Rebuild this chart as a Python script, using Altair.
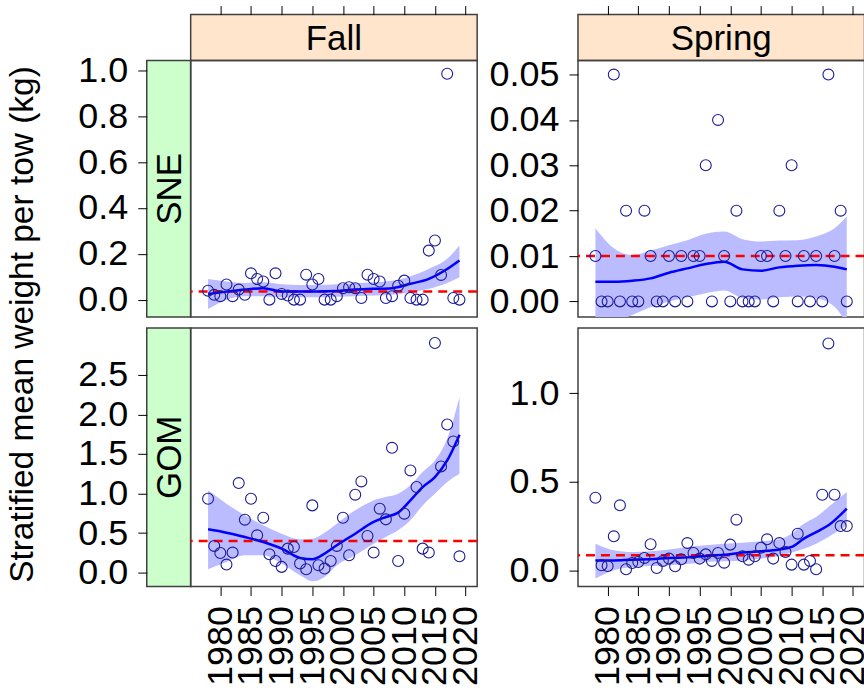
import altair as alt
import pandas as pd

FONT = "Liberation Sans"

# ---------------- data ----------------
years = list(range(1978, 2020))

fall_sne = [0.039, 0.021, 0.015, 0.066, 0.015, 0.044, 0.021, 0.115, 0.090, 0.079,
            0.0, 0.115, 0.025, 0.018, 0.0, 0.0, 0.109, 0.066, 0.090, 0.0,
            0.0, 0.015, 0.050, 0.054, 0.050, 0.007, 0.109, 0.090, 0.079, 0.007,
            0.015, 0.061, 0.083, 0.007, 0.0, 0.0, 0.214, 0.258, 0.108, 0.986,
            0.007, 0.0]
spring_sne = [0.01, 0.0, 0.0, 0.05, 0.0, 0.02, 0.0, 0.0, 0.02, 0.01,
              0.0, 0.0, 0.01, 0.0, 0.01, 0.0, 0.01, 0.01, 0.03, 0.0,
              0.04, 0.01, 0.0, 0.02, 0.0, 0.0, 0.0, 0.01, 0.01, 0.0,
              0.02, 0.01, 0.03, 0.0, 0.01, 0.0, 0.01, 0.0, 0.05, 0.01,
              0.02, 0.0]
fall_gom = [0.934, 0.337, 0.248, 0.101, 0.253, 1.132, 0.669, 0.934, 0.471, 0.694,
            0.231, 0.147, 0.072, 0.303, 0.324, 0.114, 0.042, 0.850, 0.093, 0.051,
            0.147, 0.337, 0.694, 0.219, 0.985, 1.153, 0.463, 0.253, 0.808, 0.673,
            1.578, 0.147, 0.745, 1.292, 1.082, 0.303, 0.253, 2.904, 1.343, 1.873,
            1.658, 0.206]
spring_gom = [0.410, 0.028, 0.024, 0.192, 0.367, 0.006, 0.041, 0.047, 0.070, 0.147,
              0.013, 0.053, 0.066, 0.023, 0.062, 0.154, 0.098, 0.066, 0.090, 0.053,
              0.098, 0.043, 0.145, 0.286, 0.079, 0.060, 0.079, 0.128, 0.175, 0.066,
              0.154, 0.103, 0.032, 0.207, 0.032, 0.053, 0.006, 0.427, 1.282, 0.427,
              0.250, 0.250]

# smoother (fit and band) read at knot years
sne_knots = [1978, 1981, 1984, 1987, 1990, 1993, 1996, 1999, 2002, 2005, 2008, 2011, 2014, 2017, 2019]
fall_sne_fit = [0.025, 0.035, 0.044, 0.050, 0.036, 0.036, 0.036, 0.038, 0.044, 0.047, 0.050, 0.069, 0.091, 0.134, 0.171]
fall_sne_lo = [-0.041, 0.0, 0.015, 0.015, 0.010, 0.010, 0.010, 0.013, 0.015, 0.018, 0.021, 0.032, 0.047, 0.073, 0.098]
fall_sne_hi = [0.090, 0.079, 0.073, 0.076, 0.067, 0.064, 0.064, 0.067, 0.072, 0.076, 0.082, 0.102, 0.134, 0.178, 0.236]

spring_sne_fit = [0.00433, 0.00433, 0.00455, 0.00507, 0.00632, 0.00728, 0.00824, 0.00875, 0.00706, 0.00677, 0.00750, 0.00787, 0.00802, 0.00765, 0.00706]
spring_sne_lo = [-0.0078, -0.0049, -0.0030, -0.0013, 0.0, 0.0009, 0.0018, 0.0024, 0.0007, 0.0004, 0.0009, 0.0011, 0.0007, -0.0012, -0.0049]
spring_sne_hi = [0.0161, 0.0117, 0.0102, 0.0112, 0.0124, 0.0135, 0.0149, 0.0154, 0.0137, 0.0132, 0.0134, 0.0135, 0.0143, 0.0161, 0.0187]

fall_gom_knots = [1978, 1981, 1984, 1987, 1990, 1993, 1995, 1997, 1999, 2002, 2005, 2007, 2009, 2011, 2013, 2015, 2017, 2019]
fall_gom_fit = [0.547, 0.505, 0.450, 0.387, 0.303, 0.185, 0.168, 0.240, 0.345, 0.492, 0.640, 0.703, 0.758, 0.913, 1.082, 1.208, 1.418, 1.742]
fall_gom_lo = [0.042, 0.135, 0.219, 0.219, 0.114, -0.034, -0.109, -0.055, 0.093, 0.219, 0.366, 0.450, 0.535, 0.661, 0.850, 0.997, 1.145, 1.250]
fall_gom_hi = [1.040, 0.871, 0.724, 0.598, 0.492, 0.421, 0.429, 0.505, 0.619, 0.787, 0.913, 0.955, 0.997, 1.103, 1.271, 1.418, 1.692, 2.218]

spring_gom_knots = [1978, 1981, 1984, 1987, 1990, 1993, 1996, 1999, 2002, 2005, 2008, 2010, 2012, 2014, 2016, 2019]
spring_gom_fit = [0.056, 0.056, 0.060, 0.062, 0.070, 0.073, 0.081, 0.088, 0.100, 0.107, 0.118, 0.132, 0.179, 0.216, 0.254, 0.348]
spring_gom_lo = [-0.047, 0.0, 0.019, 0.024, 0.028, 0.036, 0.047, 0.051, 0.056, 0.066, 0.081, 0.100, 0.122, 0.150, 0.188, 0.254]
spring_gom_hi = [0.150, 0.113, 0.103, 0.107, 0.118, 0.132, 0.141, 0.150, 0.156, 0.164, 0.175, 0.207, 0.263, 0.301, 0.357, 0.442]

# reference (dashed) levels
ref_fall_sne = 0.036
ref_spring_sne = 0.01
ref_fall_gom = 0.40
ref_spring_gom = 0.085

# axis ticks
x_ticks = [1980, 1985, 1990, 1995, 2000, 2005, 2010, 2015, 2020]
y_ticks_fall_sne = [0.0, 0.2, 0.4, 0.6, 0.8, 1.0]
y_ticks_spring_sne = [0.0, 0.01, 0.02, 0.03, 0.04, 0.05]
y_ticks_fall_gom = [0.0, 0.5, 1.0, 1.5, 2.0, 2.5]
y_ticks_spring_gom = [0.0, 0.5, 1.0]

seasons = ["Fall", "Spring"]
regions = ["SNE", "GOM"]
y_title = "Stratified mean weight per tow (kg)"

# ---------------- layout / style ----------------
X_DOMAIN = [1975.16, 2021.89]
PANEL_W = 287
STRIP_H = 46
STRIP_W = 44
GAP_W = 101
GAP_H = 11
SNE_H = 257
GOM_H = 259
BORDER = "#404040"
PT_COLOR = "#1a1a9a"
LINE_COLOR = "#0000ff"
BAND_COLOR = "#bbbbff"
REF_COLOR = "#ff0000"
LABEL_SIZE = 36


def x_axis(kind):
    if kind == "top":
        return alt.Axis(orient="top", offset=STRIP_H, values=x_ticks, labels=False,
                        tickSize=9, tickColor="black", tickWidth=1, domain=False,
                        grid=False, title=None)
    return alt.Axis(orient="bottom", values=x_ticks, format="d", labelAngle=270,
                    labelFont=FONT, labelFontSize=LABEL_SIZE, labelColor="black",
                    labelPadding=10, labelOverlap=False, labelFlush=False,
                    labelBound=False, tickSize=9, tickColor="black", tickWidth=1,
                    domain=False, grid=False, title=None)


def y_axis(values, fmt, offset, with_title=False):
    kw = dict(orient="left", offset=offset, values=values, format=fmt,
              labelFont=FONT, labelFontSize=LABEL_SIZE, labelColor="black",
              labelPadding=10, labelOverlap=False, labelFlush=False,
              tickSize=9, tickColor="black", tickWidth=1, domain=False, grid=False)
    if with_title:
        kw.update(title=y_title, titleFont=FONT, titleFontSize=33.5,
                  titleFontWeight="normal", titleColor="black", titleAngle=270,
                  titleX=-124, titleY=264, titleAlign="center", titleBaseline="middle")
    else:
        kw.update(title=None)
    return alt.Axis(**kw)


def panel(pts, knots, fit, lo, hi, ref, ydomain, xax, yax, height):
    pdf = pd.DataFrame({"year": years, "value": pts})
    sdf = pd.DataFrame({"year": knots, "fit": fit, "lo": lo, "hi": hi})
    rdf = pd.DataFrame({"ref": [ref]})
    xs = alt.Scale(domain=X_DOMAIN, nice=False, zero=False)
    ys = alt.Scale(domain=ydomain, nice=False, zero=False)

    def X():
        return alt.X("year:Q", scale=xs, axis=xax)

    band = alt.Chart(sdf).mark_area(color=BAND_COLOR, opacity=1, interpolate="monotone", clip=True).encode(
        x=X(), y=alt.Y("lo:Q", scale=ys, axis=yax), y2="hi:Q")
    rule = alt.Chart(rdf).mark_rule(color=REF_COLOR, strokeDash=[9, 6], strokeWidth=2.5).encode(
        y=alt.Y("ref:Q", scale=ys, axis=yax))
    line = alt.Chart(sdf).mark_line(color=LINE_COLOR, strokeWidth=2.5, interpolate="monotone", clip=True).encode(
        x=X(), y=alt.Y("fit:Q", scale=ys, axis=yax))
    points = alt.Chart(pdf).mark_point(shape="circle", filled=False, color=PT_COLOR, size=120,
                                       strokeWidth=1.1, opacity=1, clip=True).encode(
        x=X(), y=alt.Y("value:Q", scale=ys, axis=yax))
    return alt.layer(band, rule, line, points).properties(
        width=PANEL_W, height=height,
        view=alt.ViewBackground(stroke=BORDER, strokeWidth=1.5))


def top_strip(label):
    df = pd.DataFrame({"label": [label]})
    return alt.Chart(df).mark_text(font=FONT, fontSize=35, color="black",
                                   align="center", baseline="middle").encode(
        text="label:N", x=alt.value(PANEL_W / 2), y=alt.value(STRIP_H / 2 + 1)
    ).properties(width=PANEL_W, height=STRIP_H,
                 view=alt.ViewBackground(fill="#ffe5cc", stroke=BORDER, strokeWidth=1.5))


def left_strip(label, height):
    df = pd.DataFrame({"label": [label]})
    return alt.Chart(df).mark_text(font=FONT, fontSize=35, color="black", angle=270,
                                   align="center", baseline="middle").encode(
        text="label:N", x=alt.value(STRIP_W / 2 + 1), y=alt.value(height / 2)
    ).properties(width=STRIP_W, height=height,
                 view=alt.ViewBackground(fill="#ccffcc", stroke=BORDER, strokeWidth=1.5))


def spacer(w, h):
    df = pd.DataFrame({"label": [""]})
    return alt.Chart(df).mark_text().encode(text="label:N").properties(width=w, height=h)


fall_sne_panel = panel(fall_sne, sne_knots, fall_sne_fit, fall_sne_lo, fall_sne_hi, ref_fall_sne,
                       [-0.076, 1.044], x_axis("top"),
                       y_axis(y_ticks_fall_sne, ".1f", STRIP_W, with_title=True), SNE_H)
spring_sne_panel = panel(spring_sne, sne_knots, spring_sne_fit, spring_sne_lo, spring_sne_hi, ref_spring_sne,
                         [-0.00345, 0.0531], x_axis("top"),
                         y_axis(y_ticks_spring_sne, ".2f", 0), SNE_H)
fall_gom_panel = panel(fall_gom, fall_gom_knots, fall_gom_fit, fall_gom_lo, fall_gom_hi, ref_fall_gom,
                       [-0.177, 3.093], x_axis("bottom"),
                       y_axis(y_ticks_fall_gom, ".1f", STRIP_W), GOM_H)
spring_gom_panel = panel(spring_gom, spring_gom_knots, spring_gom_fit, spring_gom_lo, spring_gom_hi, ref_spring_gom,
                         [-0.092, 1.369], x_axis("bottom"),
                         y_axis(y_ticks_spring_gom, ".1f", 0), GOM_H)

cells = [
    spacer(STRIP_W, STRIP_H), top_strip(seasons[0]), spacer(GAP_W, STRIP_H), top_strip(seasons[1]),
    left_strip(regions[0], SNE_H), fall_sne_panel, spacer(GAP_W, SNE_H), spring_sne_panel,
    spacer(STRIP_W, GAP_H), spacer(PANEL_W, GAP_H), spacer(GAP_W, GAP_H), spacer(PANEL_W, GAP_H),
    left_strip(regions[1], GOM_H), fall_gom_panel, spacer(GAP_W, GOM_H), spring_gom_panel,
]

# negative right padding crops the Spring column at the window edge, as in the original figure
chart = alt.concat(*cells, columns=4, spacing=0, bounds="flush", align="each",
                   padding={"left": 5, "top": 3, "right": -8.5, "bottom": 0}
                   ).configure_view(stroke="transparent").configure(background="white")

chart.save("out.html", embed_options={"renderer": "svg", "actions": False})
